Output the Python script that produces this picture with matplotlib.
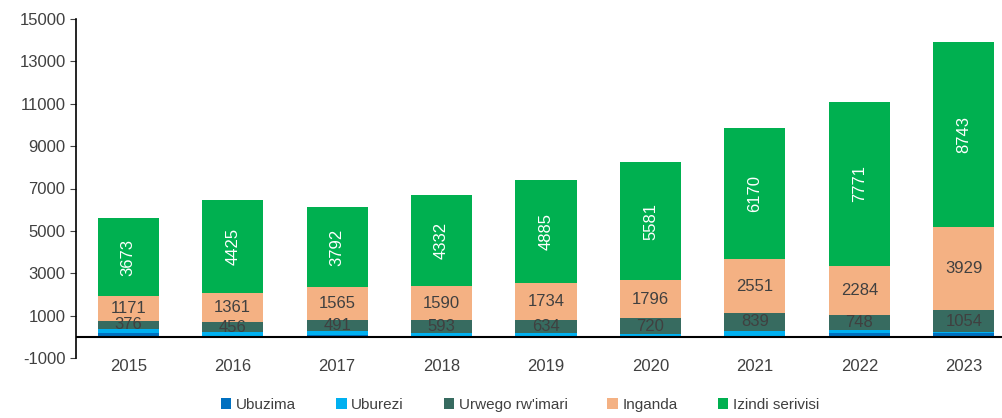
import matplotlib.pyplot as plt
import numpy as np

plt.rcParams['font.family'] = ['Liberation Sans', 'DejaVu Sans']
plt.rcParams['axes.unicode_minus'] = False

years = ['2015', '2016', '2017', '2018', '2019', '2020', '2021', '2022', '2023']
ubuzima = [180, 60, 90, 50, 50, 50, 60, 190, 160]
uburezi = [200, 170, 190, 150, 110, 100, 220, 110, 50]
urwego = [376, 456, 491, 593, 634, 720, 839, 748, 1054]
inganda = [1171, 1361, 1565, 1590, 1734, 1796, 2551, 2284, 3929]
izindi = [3673, 4425, 3792, 4332, 4885, 5581, 6170, 7771, 8743]

series = [
    ('Ubuzima', ubuzima, '#0070C0', None),
    ('Uburezi', uburezi, '#00B0F0', None),
    ("Urwego rw'imari", urwego, '#376B60', '#404040'),
    ('Inganda', inganda, '#F4B183', '#404040'),
    ('Izindi serivisi', izindi, '#00B050', 'white'),
]

fig = plt.figure(figsize=(10.03, 4.18), dpi=100)
# plot area runs past the right edge, as in the original
ax = fig.add_axes([76 / 1003, 1 - 358 / 418, (1016 - 76) / 1003, (358 - 19) / 418])

x = np.arange(len(years))
bottom = np.zeros(len(years))
for name, vals, color, lcolor in series:
    vals = np.array(vals, dtype=float)
    ax.bar(x, vals, 0.585, bottom=bottom, color=color, label=name, zorder=2)
    if lcolor is not None:
        for i, v in enumerate(vals):
            yc = bottom[i] + v / 2
            rot = 90 if name == 'Izindi serivisi' else 0
            ax.text(x[i], yc, f'{int(v)}', ha='center', va='center', color=lcolor,
                    fontsize=12, rotation=rot, zorder=3)
    bottom += vals

ax.set_ylim(-1000, 15000)
ax.set_yticks(np.arange(-1000, 15001, 2000))
ax.set_xlim(-0.5, len(years) - 0.5)
ax.set_xticks(x)
ax.set_xticklabels(years)
ax.tick_params(axis='x', length=0, labelsize=12, pad=1, colors='#404040')
ax.tick_params(axis='y', labelsize=12, colors='#404040', length=4)
ax.axhline(0, color='black', linewidth=1.5, zorder=4)
for s in ['top', 'right', 'bottom']:
    ax.spines[s].set_visible(False)
ax.spines['left'].set_linewidth(1.2)
ax.spines['left'].set_color('black')

handles, labels = ax.get_legend_handles_labels()
fig.legend(handles, labels, loc='center', bbox_to_anchor=(520 / 1003, 1 - 405 / 418), ncol=5,
           frameon=False, fontsize=11, handlelength=0.7, handleheight=0.7, handletextpad=0.3,
           columnspacing=2.6, labelcolor='#404040')

fig.savefig('out.png', dpi=100)
